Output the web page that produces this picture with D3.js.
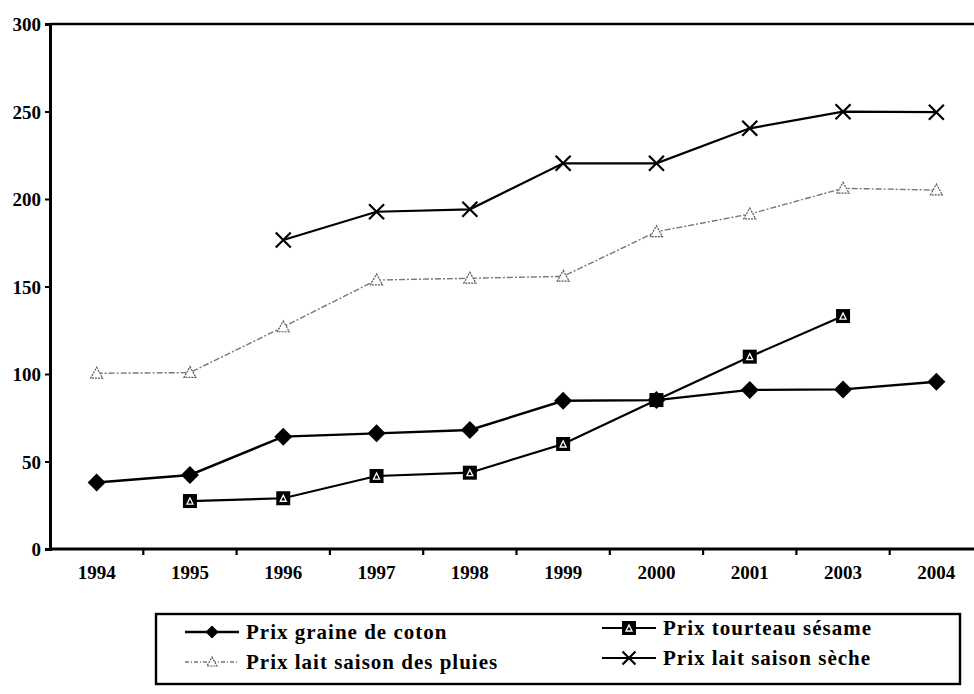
<!DOCTYPE html>
<html><head><meta charset="utf-8">
<script src="https://cdn.jsdelivr.net/npm/d3@7"></script>
<style>
html,body{margin:0;padding:0;background:#fff;}
svg{display:block;}
text{font-family:"Liberation Serif","DejaVu Serif",serif;font-weight:bold;fill:#000;}
</style></head>
<body>
<svg id="chart" width="974" height="694"></svg>
<script>
const years = ["1994","1995","1996","1997","1998","1999","2000","2001","2003","2004"];
const yTicks = [0,50,100,150,200,250,300];
const coton   = [38, 42.3, 64.2, 66.1, 68, 84.7, 85.1, 90.9, 91.2, 95.6];
const sesame  = [null, 27.4, 29, 41.7, 43.6, 60, 85.1, 109.9, 133.1, null];
const pluies  = [100.4, 100.8, 126.9, 153.7, 154.7, 155.8, 181.3, 191.4, 206.1, 205.1];
const seche   = [null, null, 176.6, 192.7, 194.1, 220.4, 220.4, 240.4, 249.9, 249.6];
const seriesNames = ["Prix graine de coton","Prix tourteau sésame","Prix lait saison des pluies","Prix lait saison sèche"];

const svg = d3.select("#chart");
const mLeft = 50, mTop = 24, mBottom = 549, mRight = 983;
const x = d3.scaleBand().domain(years).range([mLeft, mRight]).padding(0);
const y = d3.scaleLinear().domain([0,300]).range([mBottom, mTop]);
const cx = d => x(d) + x.bandwidth()/2;

// frame: top line + left axis
svg.append("line").attr("x1",mLeft).attr("x2",974).attr("y1",mTop).attr("y2",mTop)
  .attr("stroke","#000").attr("stroke-width",2.4);

const yAxis = svg.append("g").attr("transform",`translate(${mLeft},0)`)
  .call(d3.axisLeft(y).tickValues(yTicks).tickSize(5).tickPadding(4));
yAxis.select(".domain").attr("stroke-width",3);
yAxis.selectAll(".tick line").attr("stroke-width",2);
yAxis.selectAll(".tick text").style("font-size","19px").attr("dy","0.35em");

// x axis
const xAxis = svg.append("g").attr("transform",`translate(0,${mBottom})`)
  .call(d3.axisBottom(x).tickSize(0).tickPadding(17));
xAxis.select(".domain").attr("d",`M${mLeft},0H974`).attr("stroke-width",2.8);
xAxis.selectAll(".tick text").style("font-size","19px");
xAxis.selectAll(".bound").data(years.slice(1)).enter().append("line")
  .attr("x1",d=>x(d)).attr("x2",d=>x(d)).attr("y1",0).attr("y2",6)
  .attr("stroke","#000").attr("stroke-width",2.2);

function series(vals){ return years.map((yr,i)=>({yr, v: vals[i]})).filter(d=>d.v!=null); }
const line = d3.line().x(d=>cx(d.yr)).y(d=>y(d.v));

// lines
svg.append("path").datum(series(pluies)).attr("d",line).attr("fill","none")
  .attr("stroke","#777").attr("stroke-width",1.4).attr("stroke-dasharray","6,2,2,2");
svg.append("path").datum(series(seche)).attr("d",line).attr("fill","none")
  .attr("stroke","#000").attr("stroke-width",2.2);
svg.append("path").datum(series(sesame)).attr("d",line).attr("fill","none")
  .attr("stroke","#000").attr("stroke-width",2.2);
svg.append("path").datum(series(coton)).attr("d",line).attr("fill","none")
  .attr("stroke","#000").attr("stroke-width",2.4);

// markers
function diamond(g, px, py, s){
  g.append("path").attr("d",`M${px},${py-s}L${px+s},${py}L${px},${py+s}L${px-s},${py}Z`).attr("fill","#000");
}
function square(g, px, py, s){
  g.append("rect").attr("x",px-s).attr("y",py-s).attr("width",2*s).attr("height",2*s).attr("fill","#000");
  g.append("path").attr("d",`M${px-3},${py+3}L${px},${py-3}L${px+3},${py+3}Z`).attr("fill","none").attr("stroke","#fff").attr("stroke-width",1.3);
}
function cross(g, px, py, s){
  g.append("path").attr("d",`M${px-s},${py-s}L${px+s},${py+s}M${px-s},${py+s}L${px+s},${py-s}`)
    .attr("stroke","#000").attr("stroke-width",2.2);
}
function tri(g, px, py, s){
  g.append("path").attr("d",`M${px},${py-s}L${px+s},${py+s*0.8}L${px-s},${py+s*0.8}Z`)
    .attr("fill","#fff").attr("stroke","#555").attr("stroke-width",1.2).attr("stroke-dasharray","2,1");
}
const mk = svg.append("g");
series(pluies).forEach(d=>tri(mk, cx(d.yr), y(d.v), 6));
series(seche).forEach(d=>cross(mk, cx(d.yr), y(d.v), 7.5));
series(sesame).forEach(d=>square(mk, cx(d.yr), y(d.v), 7));
series(coton).forEach(d=>diamond(mk, cx(d.yr), y(d.v), 9));

// legend
const lg = svg.append("g");
lg.append("rect").attr("x",156).attr("y",614).attr("width",804).attr("height",70)
  .attr("fill","none").attr("stroke","#000").attr("stroke-width",2.4);
const items = [
  {name:seriesNames[0], x:185, y:632, draw:(g,px,py)=>diamond(g,px,py,6.5), stroke:"#000", w:2.4, dash:null},
  {name:seriesNames[1], x:602, y:628, draw:(g,px,py)=>square(g,px,py,7), stroke:"#000", w:2, dash:null},
  {name:seriesNames[2], x:185, y:662, draw:(g,px,py)=>tri(g,px,py,5), stroke:"#777", w:1.3, dash:"4,2,1,2"},
  {name:seriesNames[3], x:602, y:658, draw:(g,px,py)=>cross(g,px,py,6.5), stroke:"#000", w:2, dash:null}
];
items.forEach(it=>{
  lg.append("line").attr("x1",it.x).attr("x2",it.x+54).attr("y1",it.y).attr("y2",it.y)
    .attr("stroke",it.stroke).attr("stroke-width",it.w).attr("stroke-dasharray",it.dash);
  it.draw(lg, it.x+27, it.y);
  lg.append("text").attr("x",it.x+61).attr("y",it.y).attr("dy","0.35em")
    .style("font-size","21px").style("letter-spacing","1px").text(it.name);
});
</script>
</body></html>
